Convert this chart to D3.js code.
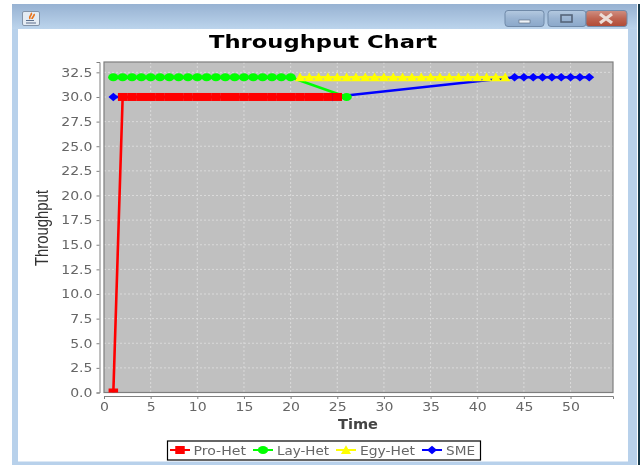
<!DOCTYPE html>
<html>
<head>
<meta charset="utf-8">
<title>Throughput Chart</title>
<script src="https://cdn.jsdelivr.net/npm/d3@7"></script>
<style>
html, body { margin: 0; padding: 0; background: #fff; overflow: hidden; }
svg { display: block; filter: blur(0.4px); }
text { font-family: "DejaVu Sans", sans-serif; }
</style>
</head>
<body>
<svg id="vizSVG" width="640" height="465"></svg>
<script>
var xTicks = [0, 5, 10, 15, 20, 25, 30, 35, 40, 45, 50];
var yTicks = [0, 2.5, 5, 7.5, 10, 12.5, 15, 17.5, 20, 22.5, 25, 27.5, 30, 32.5];

var seriesNames = ["Pro-Het", "Lay-Het", "Egy-Het", "SME"];
var seriesColors = ["#ff0000", "#00ff00", "#ffff00", "#0000ff"];

var proTime = [1, 2, 3, 4, 5, 6, 7, 8, 9, 10, 11, 12, 13, 14, 15, 16, 17, 18, 19, 20, 21, 22, 23, 24, 25];
var proValue = [0, 30, 30, 30, 30, 30, 30, 30, 30, 30, 30, 30, 30, 30, 30, 30, 30, 30, 30, 30, 30, 30, 30, 30, 30];
var layTime = [1, 2, 3, 4, 5, 6, 7, 8, 9, 10, 11, 12, 13, 14, 15, 16, 17, 18, 19, 20, 26];
var layValue = [32, 32, 32, 32, 32, 32, 32, 32, 32, 32, 32, 32, 32, 32, 32, 32, 32, 32, 32, 32, 30];
var egyTime = [21, 22, 23, 24, 25, 26, 27, 28, 29, 30, 31, 32, 33, 34, 35, 36, 37, 38, 39, 40, 41, 42, 43];
var egyValue = [32, 32, 32, 32, 32, 32, 32, 32, 32, 32, 32, 32, 32, 32, 32, 32, 32, 32, 32, 32, 32, 32, 32];
var smeTime = [1, 24.5, 44, 45, 46, 47, 48, 49, 50, 51, 52];
var smeValue = [30, 30, 32, 32, 32, 32, 32, 32, 32, 32, 32];

var allTimes = [proTime, layTime, egyTime, smeTime];
var allValues = [proValue, layValue, egyValue, smeValue];

var plotLeft = 104, plotRight = 613, plotTop = 62, plotBottom = 392.5;
var svg = d3.select("#vizSVG");

// window frame around the chart
function drawWindow() {
  var defs = svg.append("defs");
  var grad = defs.append("linearGradient").attr("id", "titleBar")
    .attr("x1", 0).attr("y1", 0).attr("x2", 0).attr("y2", 1);
  grad.append("stop").attr("offset", 0).attr("stop-color", "#97b2d2");
  grad.append("stop").attr("offset", 1).attr("stop-color", "#bcd4ec");

  var red = defs.append("linearGradient").attr("id", "closeBtn")
    .attr("x1", 0).attr("y1", 0).attr("x2", 0).attr("y2", 1);
  red.append("stop").attr("offset", 0).attr("stop-color", "#cf8f82");
  red.append("stop").attr("offset", 0.5).attr("stop-color", "#bf6552");
  red.append("stop").attr("offset", 1).attr("stop-color", "#b04a36");

  var blue = defs.append("linearGradient").attr("id", "winBtn")
    .attr("x1", 0).attr("y1", 0).attr("x2", 0).attr("y2", 1);
  blue.append("stop").attr("offset", 0).attr("stop-color", "#b4c9e0");
  blue.append("stop").attr("offset", 0.5).attr("stop-color", "#9ab4d2");
  blue.append("stop").attr("offset", 1).attr("stop-color", "#8ba8ca");

  svg.append("rect").attr("x", 12).attr("y", 4).attr("width", 625).attr("height", 461).attr("fill", "#b8d1eb");
  svg.append("rect").attr("x", 12).attr("y", 4).attr("width", 625).attr("height", 25).attr("fill", "url(#titleBar)");
  svg.append("rect").attr("x", 638).attr("y", 4).attr("width", 2).attr("height", 461).attr("fill", "#17394a");
  svg.append("rect").attr("x", 18).attr("y", 29).attr("width", 610).attr("height", 432.5).attr("fill", "#fff");

  var btn = [[505, 39, "url(#winBtn)"], [548, 38, "url(#winBtn)"], [586, 41, "url(#closeBtn)"]];
  btn.forEach(function(b) {
    svg.append("rect").attr("x", b[0]).attr("y", 10.5).attr("width", b[1]).attr("height", 16).attr("rx", 3)
      .attr("fill", b[2]).attr("stroke", "#6f89a8");
  });
  svg.append("rect").attr("x", 519).attr("y", 20).attr("width", 11).attr("height", 3).attr("fill", "#eef3f8").attr("stroke", "#55657a").attr("stroke-width", 0.6);
  svg.append("rect").attr("x", 561).attr("y", 15).attr("width", 11).attr("height", 7).attr("fill", "none").attr("stroke", "#55657a").attr("stroke-width", 1.6);
  svg.append("path").attr("d", "M600 14L612 23M612 14L600 23").attr("stroke", "#ecdcd6").attr("stroke-width", 3.2);

  // java icon
  svg.append("rect").attr("x", 22.5).attr("y", 11.5).attr("width", 17).attr("height", 14).attr("rx", 1.5)
    .attr("fill", "#e4ebf3").attr("stroke", "#8393a8");
  svg.append("path").attr("d", "M31 13C33 15 28 16 30 19M34 14C35 16 32 17 32 19").attr("fill", "none").attr("stroke", "#e8741c").attr("stroke-width", 1.8);
  svg.append("path").attr("d", "M26 20.5H34M26 23H36").attr("fill", "none").attr("stroke", "#5c6f8c").attr("stroke-width", 1.2);
}

// stretch text sideways, the picture was resized wider than tall
function stretch(sel, factor) {
  sel.each(function() {
    d3.select(this).attr("textLength", this.getComputedTextLength() * factor).attr("lengthAdjust", "spacingAndGlyphs");
  });
}

drawWindow();

svg.append("text").attr("x", 323).attr("y", 48).attr("text-anchor", "middle")
  .attr("font-size", 17.5).attr("font-weight", "bold").attr("fill", "#000")
  .attr("textLength", 228).attr("lengthAdjust", "spacingAndGlyphs")
  .text("Throughput Chart");

var x = d3.scaleLinear().domain([0, 54.55]).range([plotLeft, plotRight]);
var y = d3.scaleLinear().domain([0, 33.55]).range([plotBottom, plotTop]);

svg.append("clipPath").attr("id", "plotClip").append("rect")
  .attr("x", plotLeft).attr("y", plotTop).attr("width", plotRight - plotLeft).attr("height", plotBottom - plotTop);

svg.append("rect").attr("x", plotLeft).attr("y", plotTop)
  .attr("width", plotRight - plotLeft).attr("height", plotBottom - plotTop)
  .attr("fill", "#c0c0c0");

// gridlines
var grid = svg.append("g").attr("stroke", "#dadada").attr("stroke-width", 1).attr("stroke-dasharray", "2,2");
grid.selectAll("line.gx").data(xTicks.slice(1)).join("line")
  .attr("x1", function(d) { return x(d); }).attr("x2", function(d) { return x(d); })
  .attr("y1", plotTop).attr("y2", plotBottom);
grid.selectAll("line.gy").data(yTicks.slice(1)).join("line")
  .attr("x1", plotLeft).attr("x2", plotRight)
  .attr("y1", function(d) { return y(d); }).attr("y2", function(d) { return y(d); });

svg.append("rect").attr("x", plotLeft).attr("y", plotTop)
  .attr("width", plotRight - plotLeft).attr("height", plotBottom - plotTop)
  .attr("fill", "none").attr("stroke", "#7f7f7f").attr("stroke-width", 1.2);

// axes sit a little away from the plot
var xAxis = svg.append("g").attr("transform", "translate(0,396)")
  .call(d3.axisBottom(x).tickValues(xTicks).tickSize(3).tickPadding(3).tickFormat(d3.format("d")));
var yAxis = svg.append("g").attr("transform", "translate(99.5,0)")
  .call(d3.axisLeft(y).tickValues(yTicks).tickSize(3).tickPadding(4).tickFormat(d3.format(".1f")));
[xAxis, yAxis].forEach(function(a) {
  a.selectAll("path, line").attr("stroke", "#808080");
  a.selectAll("text").attr("fill", "#666").attr("font-size", 12).attr("font-family", '"DejaVu Sans", sans-serif');
  stretch(a.selectAll("text"), 1.17);
});

svg.append("text").attr("x", 358).attr("y", 428.5).attr("text-anchor", "middle")
  .attr("font-size", 13.5).attr("font-weight", "bold").attr("fill", "#444")
  .attr("textLength", 40).attr("lengthAdjust", "spacingAndGlyphs").text("Time");
svg.append("text").attr("transform", "translate(48,228) rotate(-90)").attr("text-anchor", "middle")
  .attr("font-size", 18).attr("fill", "#333").style("font-family", '"Liberation Sans", sans-serif')
  .attr("textLength", 76).attr("lengthAdjust", "spacingAndGlyphs").text("Throughput");

// one marker per series, the picture is squashed so they are not symmetric
function marker(sel, i) {
  if (i == 0) {
    sel.append("rect").attr("x", -4.75).attr("y", -4).attr("width", 9.5).attr("height", 8);
  } else if (i == 1) {
    sel.append("ellipse").attr("rx", 5.2).attr("ry", 4);
  } else if (i == 2) {
    sel.append("path").attr("d", d3.symbol().type(d3.symbolTriangle).size(44)).attr("transform", "translate(0,1)");
  } else {
    sel.append("path").attr("d", d3.symbol().type(d3.symbolDiamond).size(34)).attr("transform", "scale(1.6,0.8)");
  }
}

var lineGen = d3.line();
var plot = svg.append("g").attr("clip-path", "url(#plotClip)");

// lines first, markers on top of every line, last series at the bottom
[3, 2, 1, 0].forEach(function(i) {
  var pts = allTimes[i].map(function(t, k) { return [x(t), y(allValues[i][k])]; });
  plot.append("path").attr("d", lineGen(pts)).attr("fill", "none")
    .attr("stroke", seriesColors[i]).attr("stroke-width", 2.6);
});
[3, 2, 1, 0].forEach(function(i) {
  var pts = allTimes[i].map(function(t, k) { return [x(t), y(allValues[i][k])]; });
  var g = plot.append("g").attr("fill", seriesColors[i]);
  g.selectAll("g").data(pts).join("g")
    .attr("transform", function(d) { return "translate(" + d[0] + "," + d[1] + ")"; })
    .each(function() { marker(d3.select(this), i); });
});

// legend
var legendLine = [170, 253, 336, 422];
var legendText = [193.5, 277, 360, 446];
var legendLen = [52.5, 52, 55, 29];
svg.append("rect").attr("x", 167.5).attr("y", 441).attr("width", 313).attr("height", 19)
  .attr("fill", "#fff").attr("stroke", "#000").attr("stroke-width", 1.2);
seriesNames.forEach(function(name, i) {
  var g = svg.append("g");
  g.append("line").attr("x1", legendLine[i]).attr("x2", legendLine[i] + 20).attr("y1", 450).attr("y2", 450)
    .attr("stroke", seriesColors[i]).attr("stroke-width", 2);
  var m = g.append("g").attr("fill", seriesColors[i]).attr("transform", "translate(" + (legendLine[i] + 10) + ",450)");
  marker(m, i);
  g.append("text").attr("x", legendText[i]).attr("y", 455).attr("font-size", 12).attr("fill", "#666")
    .attr("textLength", legendLen[i]).attr("lengthAdjust", "spacingAndGlyphs").text(name);
});
</script>
</body>
</html>
